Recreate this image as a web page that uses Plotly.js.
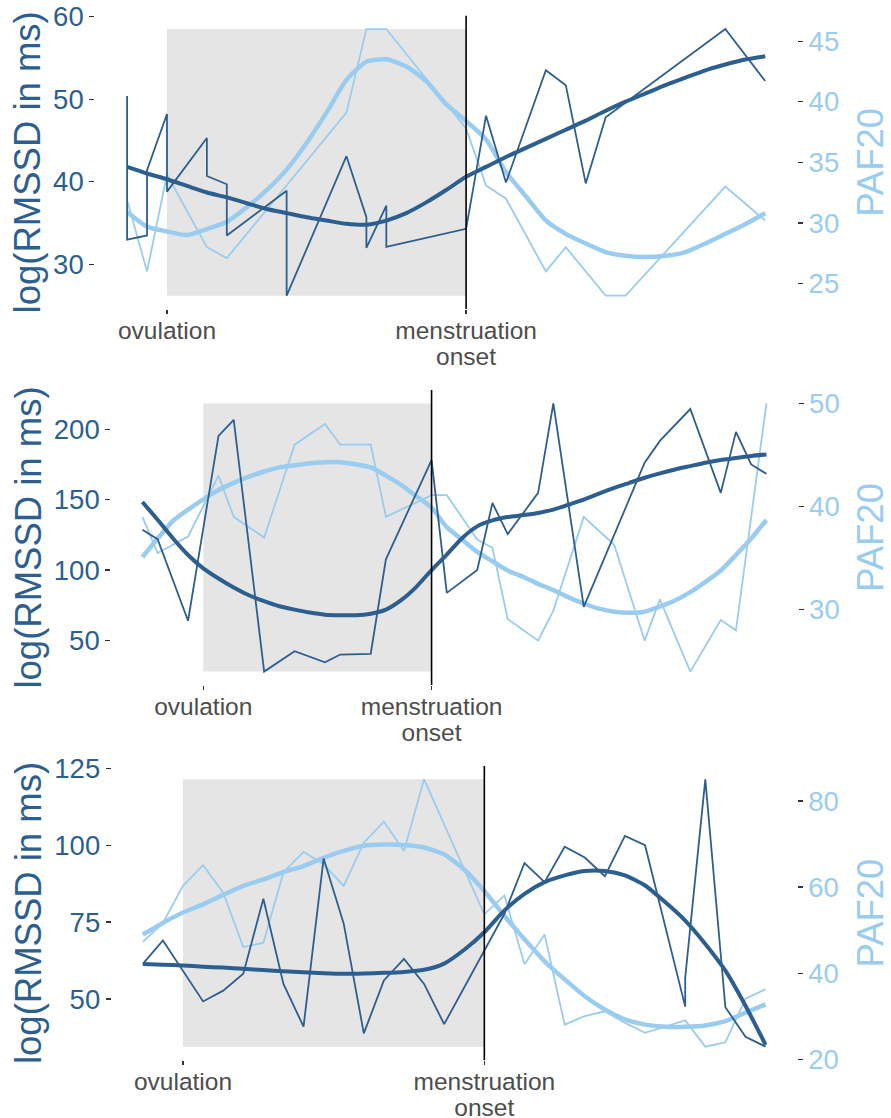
<!DOCTYPE html>
<html>
<head>
<meta charset="utf-8">
<script src="https://cdn.plot.ly/plotly-3.0.1.min.js"></script>
<style>html,body{margin:0;padding:0;background:#fff;}#chart{width:891px;height:1118px;}</style>
</head>
<body>
<div id="chart"></div>
<script>
// ---------- DATA (day 0 = ovulation, day 15 = menstruation onset) ----------
const tickVals = [0, 15];
const tickText = ['ovulation', 'menstruation<br>onset'];
const phaseStart = 0, phaseEnd = 15;

// Panel 1
const p1RmssdDays = [-2,-2,-1,-1,0,0,2,2,3,3,6,6,9,10,10,11,11,15,16,17,19,20,21,22,28,30];
const p1Rmssd     = [50.4,33.0,33.5,41.4,48.2,38.8,45.3,40.7,39.7,33.5,38.9,26.2,43.1,35.7,32.0,37.1,32.1,34.3,48.0,39.9,53.5,51.7,39.8,47.8,58.5,52.2];
const p1PafDays   = [-2,-1,0,2,3,9,10,11,15,16,17,19,20,22,23,28,30];
const p1Paf       = [31.9,26.0,34.0,28.0,27.1,39.1,46.0,46.0,37.8,33.1,32.0,26.0,28.0,24.0,24.0,33.0,30.2];
const p1SmoothDays = [-2,-1,0,1,2,3,4,5,6,7,8,9,10,11,12,13,14,15,16,17,18,19,20,21,22,23,24,25,26,27,28,29,30];
const p1RmssdSmooth = [41.8,41.0,40.3,39.5,38.7,38.1,37.4,36.7,36.2,35.7,35.3,34.9,34.8,35.3,36.2,37.5,39.0,40.6,41.8,43.0,44.1,45.2,46.3,47.4,48.6,49.7,50.7,51.7,52.6,53.5,54.2,54.8,55.2];
const p1PafSmooth   = [30.9,29.7,29.3,29.0,29.5,30.1,31.3,32.7,34.4,36.6,39.1,41.8,43.3,43.5,42.9,41.7,39.8,38.4,36.9,34.2,32.2,30.2,29.1,28.3,27.6,27.3,27.2,27.3,27.6,28.3,29.1,29.9,30.8];

// Panel 2
const p2RmssdDays = [-4,-3,-1,1,2,4,6,8,9,11,12,15,16,18,19,20,22,23,25,29,30,32,34,35,36,37];
const p2Rmssd     = [128.6,121.9,64.0,195.2,206.6,27.9,42.4,34.5,40.0,40.5,107.6,178.1,83.8,100.0,147.6,125.5,154.8,218.3,73.8,176.2,191.7,214.3,154.8,198.1,175.0,168.3];
const p2PafDays   = [-4,-3,-1,1,2,4,6,8,9,11,12,15,16,18,19,20,22,23,25,27,29,30,32,34,35,37];
const p2Paf       = [39.0,35.5,37.1,43.0,39.0,37.0,46.0,48.0,46.0,46.0,39.0,41.1,41.1,36.8,36.0,29.1,27.0,29.9,39.0,36.3,27.0,31.0,24.0,29.0,28.0,50.0];
const p2SmoothDays = [-4,-3,-2,-1,0,1,2,3,4,5,6,7,8,9,10,11,12,13,14,15,16,17,18,19,20,21,22,23,24,25,26,27,28,29,30,31,32,33,34,35,36,37];
const p2RmssdSmooth = [148.3,135.7,122.6,110.7,101.2,94.0,87.6,82.1,77.9,74.3,71.9,69.8,68.3,67.9,67.9,69.0,71.9,78.6,88.1,100.0,111.0,122.6,131.0,135.2,137.6,139.0,140.5,142.9,146.4,150.0,154.3,158.3,161.9,165.5,168.6,171.4,173.8,176.2,178.1,179.5,181.0,182.1];
const p2PafSmooth   = [35.1,36.9,38.6,39.7,40.7,41.6,42.3,42.9,43.4,43.8,44.0,44.2,44.3,44.3,44.1,43.8,43.0,42.1,41.0,39.9,38.0,36.8,35.6,34.7,33.8,33.2,32.5,31.9,31.2,30.6,30.1,29.8,29.7,29.8,30.3,30.9,31.7,32.7,33.8,35.3,36.9,38.7];

// Panel 3
const p3RmssdDays = [-2,-1,1,2,3,4,5,6,7,8,9,10,11,12,13,16,17,18,19,20,21,22,23,25,25,26,27,28,29];
const p3Rmssd     = [61.4,69.0,49.2,52.7,58.2,82.6,54.9,41.0,95.7,74.5,38.8,56.0,63.0,54.9,41.8,77.7,94.2,88.0,99.5,96.0,89.9,103.0,100.0,47.5,57.0,121.4,47.3,37.7,34.5];
const p3PafDays   = [-2,-1,0,1,2,3,4,5,6,7,8,9,10,11,12,15,16,17,18,19,20,21,22,23,25,26,27,28,29];
const p3Paf       = [47.3,51.7,60.3,65.1,58.7,46.1,47.1,63.4,68.2,65.3,60.3,70.3,75.2,68.4,85.0,53.7,58.1,42.1,49.0,28.1,30.1,31.2,28.5,26.2,29.1,23.0,24.0,34.1,36.3];
const p3SmoothDays = [-2,-1,0,1,2,3,4,5,6,7,8,9,10,11,12,13,14,15,16,17,18,19,20,21,22,23,24,25,26,27,28,29];
const p3RmssdSmooth = [61.4,61.1,60.9,60.5,60.2,59.8,59.4,59.0,58.7,58.4,58.2,58.3,58.5,58.8,59.5,61.5,66.0,71.7,78.8,84.2,88.0,90.2,91.6,91.6,90.2,86.9,81.5,75.5,67.9,59.2,47.8,35.1];
const p3PafSmooth   = [49.0,51.7,54.1,56.0,58.2,60.3,61.8,63.5,64.9,66.8,68.4,69.6,69.9,69.8,69.2,67.6,64.1,59.1,53.3,47.9,42.8,38.6,34.7,31.6,29.3,28.1,27.6,27.6,27.9,28.9,30.9,32.8];

const leftTitle = 'log(RMSSD in ms)';
const rightTitle = 'PAF20';
const leftDticks = [10, 50, 25];
const rightDticks = [5, 10, 20];

// ---------- STYLE ----------
const DARK = '#2C5F8F';
const LIGHT = '#9ACCF0';
const FONT = 'Liberation Sans, Arial, Helvetica, sans-serif';

const panels = [
  {rd:p1RmssdDays, r:p1Rmssd, pd:p1PafDays, p:p1Paf, sd:p1SmoothDays, rs:p1RmssdSmooth, ps:p1PafSmooth},
  {rd:p2RmssdDays, r:p2Rmssd, pd:p2PafDays, p:p2Paf, sd:p2SmoothDays, rs:p2RmssdSmooth, ps:p2PafSmooth},
  {rd:p3RmssdDays, r:p3Rmssd, pd:p3PafDays, p:p3Paf, sd:p3SmoothDays, rs:p3RmssdSmooth, ps:p3PafSmooth}
];

// pixel layout of the three panels
const W = 891, H = 1118;
const boxes = [
  {x0:95.2, x1:797.1, y0:15.7, y1:309},
  {x0:111.2, x1:797.6, y0:390, y1:685},
  {x0:111.7, x1:796.7, y0:766, y1:1060}
];

function expand(arrs){
  const all = [].concat(...arrs);
  const mn = Math.min(...all), mx = Math.max(...all), d = mx - mn;
  return [mn - 0.05*d, mx + 0.05*d];
}

const traces = [];
const layout = {
  width: W, height: H,
  margin: {l:0, r:0, t:0, b:0},
  paper_bgcolor: '#ffffff', plot_bgcolor: 'rgba(0,0,0,0)',
  showlegend: false,
  font: {family: FONT},
  shapes: []
};

panels.forEach((pn, i) => {
  const k = i + 1;
  const xName = k === 1 ? 'x' : 'x' + k;
  const yBase = 2*i + 1, yOver = 2*i + 2;
  const yBaseName = yBase === 1 ? 'y' : 'y' + yBase;
  const yOverName = 'y' + yOver;
  const b = boxes[i];

  // light (PAF20, right axis) on base axis, dark (RMSSD, left axis) overlaid on top
  traces.push({x: pn.pd, y: pn.p, xaxis: xName, yaxis: yBaseName, type:'scatter', mode:'lines',
    line:{color: LIGHT, width:1.8}, hoverinfo:'skip'});
  traces.push({x: pn.sd, y: pn.ps, xaxis: xName, yaxis: yBaseName, type:'scatter', mode:'lines',
    line:{color: LIGHT, width:4.5, shape:'spline', smoothing:0.6}, hoverinfo:'skip'});
  traces.push({x: pn.rd, y: pn.r, xaxis: xName, yaxis: yOverName, type:'scatter', mode:'lines',
    line:{color: DARK, width:1.8}, hoverinfo:'skip'});
  traces.push({x: pn.sd, y: pn.rs, xaxis: xName, yaxis: yOverName, type:'scatter', mode:'lines',
    line:{color: DARK, width:4, shape:'spline', smoothing:0.6}, hoverinfo:'skip'});

  const xr = expand([pn.sd, pn.rd, pn.pd]);
  const yrLeft = expand([pn.r, pn.rs]);
  const yrRight = expand([pn.p, pn.ps]);

  const xKey = k === 1 ? 'xaxis' : 'xaxis' + k;
  layout[xKey] = {
    domain: [b.x0/W, b.x1/W], anchor: yBaseName, range: xr,
    tickmode:'array', tickvals: tickVals, ticktext: tickText,
    ticks:'outside', ticklen:4, tickwidth:1.3, tickcolor:'#333333',
    ticklabelstandoff: -4,
    showgrid:false, zeroline:false, showline:false,
    tickfont:{size:24.5, color:'#4D4D4D', family:FONT}
  };
  const yDomain = [1 - b.y1/H, 1 - b.y0/H];
  const yBaseKey = yBase === 1 ? 'yaxis' : 'yaxis' + yBase;
  layout[yBaseKey] = {
    domain: yDomain, anchor: xName, side:'right', range: yrRight,
    dtick: rightDticks[i], tick0: 0,
    ticks:'outside', ticklen:5, tickwidth:1.3, tickcolor:'#333333',
    showgrid:false, zeroline:false, showline:false,
    tickfont:{size:27.5, color: LIGHT, family:FONT},
    title:{text: rightTitle, font:{size:36.5, color: LIGHT, family:FONT}, standoff:19}
  };
  layout['yaxis' + yOver] = {
    domain: yDomain, anchor: xName, overlaying: yBaseName, side:'left', range: yrLeft,
    dtick: leftDticks[i], tick0: 0,
    ticks:'outside', ticklen:5, tickwidth:1.3, tickcolor:'#333333',
    showgrid:false, zeroline:false, showline:false,
    tickfont:{size:27.5, color: DARK, family:FONT},
    title:{text: leftTitle, font:{size:36.5, color: DARK, family:FONT}, standoff:1}
  };

  // shaded luteal phase (data extent, without the 5% padding)
  layout.shapes.push({type:'rect', xref: xName, yref: yBaseName + ' domain',
    x0: phaseStart, x1: phaseEnd, y0: 1/22, y1: 21/22,
    fillcolor:'#E5E5E5', line:{width:0}, layer:'below'});
  // menstruation onset line
  layout.shapes.push({type:'line', xref: xName, yref: yBaseName + ' domain',
    x0: phaseEnd, x1: phaseEnd, y0: 0, y1: 1,
    line:{color:'#000000', width:1.6}, layer:'above'});
});

const gd = document.getElementById('chart');
Plotly.newPlot(gd, traces, layout, {staticPlot:true, displayModeBar:false}).then(() => {
  // tighter line spacing for the two-line x tick labels (all three x axes)
  gd.querySelectorAll('.xaxislayer-above text tspan.line').forEach(ts => {
    const dy = parseFloat(ts.getAttribute('dy') || '0');
    if (dy > 0) ts.setAttribute('dy', (dy * 0.8) + 'em');
  });
});
</script>
</body>
</html>
